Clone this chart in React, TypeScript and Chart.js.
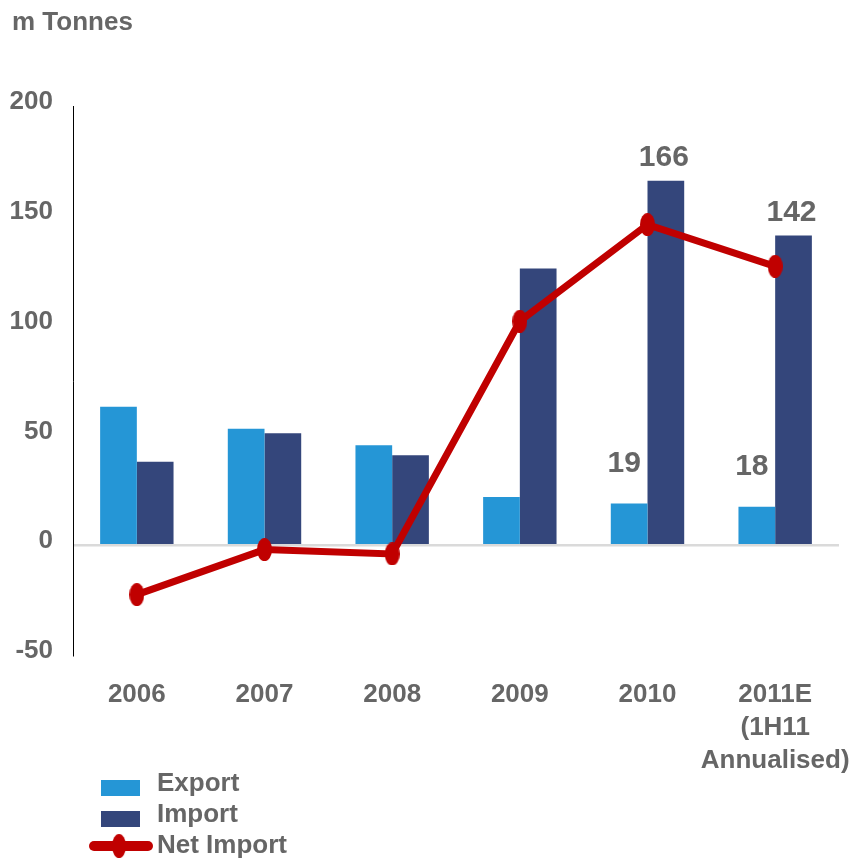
import React, { useEffect, useRef } from "react";
import { Chart, registerables } from "chart.js";

Chart.register(...registerables);

// ---- Data ----
const categories: (string | string[])[] = [
  "2006",
  "2007",
  "2008",
  "2009",
  "2010",
  ["2011E", "(1H11", "Annualised)"],
];
const exportValues = [63, 53, 45.5, 22, 19, 17.5];
const importValues = [38, 51, 41, 126, 166, 141];
const netImportValues = [-22.5, -2, -4, 102, 146, 127];
const exportLabels: (string | null)[] = [null, null, null, null, "19", "18"];
const importLabels: (string | null)[] = [null, null, null, null, "166", "142"];
const seriesNames = ["Export", "Import", "Net Import"];
const unitLabel = "m Tonnes";
const yMin = -50;
const yMax = 200;
const yStep = 50;

// ---- Styles ----
const EXPORT_COLOR = "#2596D6";
const IMPORT_COLOR = "#34467B";
const NET_COLOR = "#C00000";
const TEXT_COLOR = "#666666";
const FONT = "'Liberation Sans', Arial, Helvetica, sans-serif";

function makeEllipse(w: number, h: number, color: string): HTMLCanvasElement {
  const c = document.createElement("canvas");
  c.width = w;
  c.height = h;
  const g = c.getContext("2d")!;
  g.fillStyle = color;
  g.beginPath();
  g.ellipse(w / 2, h / 2, w / 2, h / 2, 0, 0, Math.PI * 2);
  g.fill();
  return c;
}

export default function App() {
  const canvasRef = useRef<HTMLCanvasElement | null>(null);

  useEffect(() => {
    document.body.style.margin = "0";
    const canvas = canvasRef.current;
    if (!canvas) return;

    const marker = makeEllipse(15, 23, NET_COLOR);

    const decorPlugin = {
      id: "decor",
      afterDatasetsDraw(chart: any) {
        const ctx = chart.ctx as CanvasRenderingContext2D;
        ctx.save();
        ctx.fillStyle = TEXT_COLOR;
        ctx.font = `bold 30px ${FONT}`;
        ctx.textAlign = "center";
        ctx.textBaseline = "middle";
        const sets: [number, (string | null)[], number, number][] = [
          [0, exportLabels, 40, -5],
          [1, importLabels, 23, -2],
        ];
        sets.forEach(([di, labels, off, dx]) => {
          const meta = chart.getDatasetMeta(di);
          labels.forEach((lab, i) => {
            if (!lab) return;
            const el = meta.data[i];
            ctx.fillText(lab, el.x + dx, el.y - off);
          });
        });
        ctx.restore();
      },
      afterDraw(chart: any) {
        const ctx = chart.ctx as CanvasRenderingContext2D;
        ctx.save();
        // unit title
        ctx.fillStyle = TEXT_COLOR;
        ctx.font = `bold 26px ${FONT}`;
        ctx.textAlign = "left";
        ctx.textBaseline = "alphabetic";
        ctx.fillText(unitLabel, 12, 30);

        // legend
        ctx.fillStyle = EXPORT_COLOR;
        ctx.fillRect(101, 780, 39, 16);
        ctx.fillStyle = IMPORT_COLOR;
        ctx.fillRect(101, 811, 39, 16);
        ctx.strokeStyle = NET_COLOR;
        ctx.lineWidth = 10;
        ctx.lineCap = "round";
        ctx.beginPath();
        ctx.moveTo(94, 846);
        ctx.lineTo(148, 846);
        ctx.stroke();
        ctx.drawImage(marker, 119 - 7, 846 - 12, 14, 24);

        ctx.fillStyle = TEXT_COLOR;
        ctx.font = `bold 26px ${FONT}`;
        ctx.fillText(seriesNames[0], 157, 791);
        ctx.fillText(seriesNames[1], 157, 822);
        ctx.fillText(seriesNames[2], 157, 853);
        ctx.restore();
      },
    };

    const chart = new Chart(canvas, {
      type: "bar",
      data: {
        labels: categories as any,
        datasets: [
          {
            type: "bar",
            label: seriesNames[0],
            data: exportValues,
            backgroundColor: EXPORT_COLOR,
            borderWidth: 0,
            categoryPercentage: 0.575,
            barPercentage: 1.0,
            order: 2,
          },
          {
            type: "bar",
            label: seriesNames[1],
            data: importValues,
            backgroundColor: IMPORT_COLOR,
            borderWidth: 0,
            categoryPercentage: 0.575,
            barPercentage: 1.0,
            order: 2,
          },
          {
            type: "line",
            label: seriesNames[2],
            data: netImportValues,
            borderColor: NET_COLOR,
            backgroundColor: NET_COLOR,
            borderWidth: 7,
            tension: 0,
            pointStyle: marker as any,
            pointRadius: 8,
            order: 0,
          } as any,
        ],
      },
      options: {
        responsive: false,
        animation: false,
        devicePixelRatio: 1,
        layout: { padding: { top: 106, right: 10, bottom: 0, left: 0 } },
        plugins: {
          legend: { display: false },
          tooltip: { enabled: false },
          title: { display: false },
        },
        scales: {
          x: {
            grid: { display: false },
            border: { display: false },
            ticks: {
              color: TEXT_COLOR,
              font: { family: FONT, size: 26, weight: "bold", lineHeight: 1.27 },
              padding: 15,
              maxRotation: 0,
              autoSkip: false,
            },
            afterFit: (scale: any) => {
              scale.height = 205;
              scale.paddingLeft = 0;
              scale.paddingRight = 0;
            },
          },
          y: {
            min: yMin,
            max: yMax,
            ticks: {
              stepSize: yStep,
              color: TEXT_COLOR,
              font: { family: FONT, size: 26, weight: "bold" },
              padding: 20,
              labelOffset: -4,
            },
            grid: {
              drawTicks: false,
              color: (c: any) => (c.tick && c.tick.value === 0 ? "#DADADA" : "rgba(0,0,0,0)"),
              lineWidth: 2.5,
            },
            border: { display: true, color: "#000000", width: 1 },
            afterFit: (scale: any) => {
              scale.width = 73;
              scale.paddingTop = 0;
              scale.paddingBottom = 0;
            },
          },
        },
      } as any,
      plugins: [decorPlugin],
    });

    return () => {
      chart.destroy();
    };
  }, []);

  return (
    <div style={{ width: 854, height: 860 }}>
      <canvas ref={canvasRef} width={854} height={860} />
    </div>
  );
}
